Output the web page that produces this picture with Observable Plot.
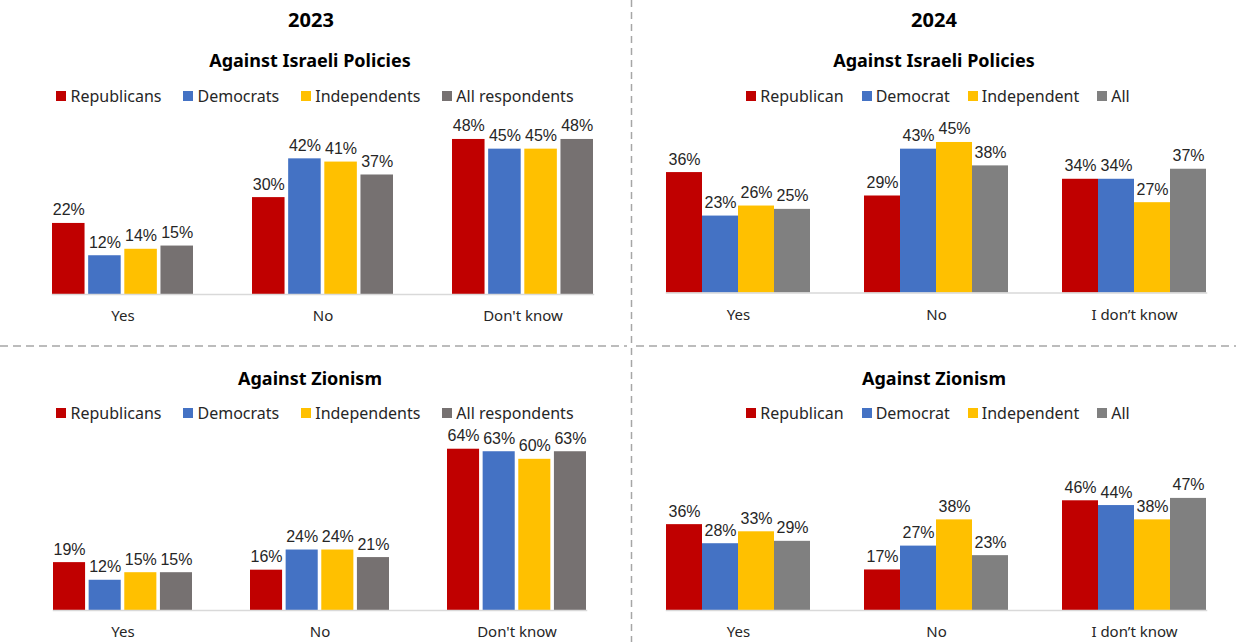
<!DOCTYPE html>
<html>
<head>
<meta charset="utf-8">
<script src="https://cdn.jsdelivr.net/npm/d3@7"></script>
<script src="https://cdn.jsdelivr.net/npm/@observablehq/plot@0.6"></script>
<style>
  html, body { margin: 0; padding: 0; background: #fff; }
  #root { position: relative; width: 1236px; height: 642px; overflow: hidden; font-family: "Noto Sans", sans-serif; color: #262626; }
  .title { position: absolute; text-align: center; font-weight: bold; color: #000; white-space: nowrap; }
  .legend { position: absolute; display: flex; justify-content: center; align-items: center; font-size: 16px; white-space: nowrap; color: #262626; }
  .legend .item { display: flex; align-items: center; }
  .legend .sw { width: 10px; height: 10px; margin-right: 4px; display: inline-block; }
  .plotbox { position: absolute; }
  .deco { position: absolute; pointer-events: none; }
</style>
</head>
<body>
<div id="root"></div>
<script>
// ---- data ----
const categories2023 = ["Yes", "No", "Don't know"];
const categories2024 = ["Yes", "No", "I don’t know"];
const series2023 = ["Republicans", "Democrats", "Independents", "All respondents"];
const series2024 = ["Republican", "Democrat", "Independent", "All"];
const colors2023 = ["#C00000", "#4472C4", "#FFC000", "#767171"];
const colors2024 = ["#C00000", "#4472C4", "#FFC000", "#808080"];

// values per category (rows), in series order (columns)
const policies2023 = [[22, 12, 14, 15], [30, 42, 41, 37], [48, 45, 45, 48]];
const policies2024 = [[36, 23, 26, 25], [29, 43, 45, 38], [34, 34, 27, 37]];
const zionism2023 = [[19, 12, 15, 15], [16, 24, 24, 21], [64, 63, 60, 63]];
const zionism2024 = [[36, 28, 33, 29], [17, 27, 38, 23], [46, 44, 38, 47]];

const root = document.getElementById("root");

function addTitle(text, cx, cy, size) {
  const d = document.createElement("div");
  d.className = "title";
  d.textContent = text;
  d.style.fontSize = size + "px";
  d.style.left = (cx - 300) + "px";
  d.style.width = "600px";
  d.style.top = (cy - size * 0.68) + "px";
  d.style.lineHeight = (size * 1.36) + "px";
  root.appendChild(d);
}

function addLegend(labels, colors, cx, cy, gap) {
  const d = document.createElement("div");
  d.className = "legend";
  d.style.left = (cx - 300) + "px";
  d.style.width = "600px";
  d.style.top = (cy - 11) + "px";
  d.style.height = "22px";
  d.style.gap = gap + "px";
  labels.forEach((l, i) => {
    const it = document.createElement("span");
    it.className = "item";
    const sw = document.createElement("span");
    sw.className = "sw";
    sw.style.background = colors[i];
    it.appendChild(sw);
    it.appendChild(document.createTextNode(l));
    d.appendChild(it);
  });
  root.appendChild(d);
}

function addPanel(cfg) {
  const rows = [];
  cfg.categories.forEach((c, i) => cfg.series.forEach((s, j) => rows.push({cat: c, series: s, value: cfg.values[i][j]})));
  const rangeH = cfg.baseline - cfg.top;
  const marginBottom = cfg.bottomH;
  const chart = Plot.plot({
    width: cfg.width,
    height: rangeH + marginBottom,
    marginTop: 0,
    marginBottom: marginBottom,
    marginLeft: cfg.marginLeft,
    marginRight: cfg.marginRight,
    style: {background: "transparent", fontFamily: "Noto Sans, sans-serif", fontSize: "15px", color: "#262626", overflow: "visible"},
    fx: {domain: cfg.categories, paddingInner: cfg.groupPad, paddingOuter: cfg.groupPad / 2, label: null, axis: "bottom", tickSize: 0, tickPadding: 16},
    x: {domain: cfg.series, axis: null, paddingInner: cfg.barPad, paddingOuter: 0, round: false},
    y: {domain: [0, rangeH / cfg.pxPer], axis: null},
    color: {domain: cfg.series, range: cfg.colors},
    marks: [
      Plot.barY(rows, {fx: "cat", x: "series", y: "value", fill: "series"}),
      Plot.text(rows, {fx: "cat", x: "series", y: "value", text: d => d.value + "%", lineAnchor: "bottom", dy: -8, fontSize: 16, fontFamily: "Liberation Sans, Arial, sans-serif", fill: "#262626"}),
      Plot.frame({anchor: "bottom", facet: "super", stroke: "#D9D9D9", strokeWidth: 1.5})
    ]
  });
  const box = document.createElement("div");
  box.className = "plotbox";
  box.style.left = cfg.left + "px";
  box.style.top = cfg.top + "px";
  box.appendChild(chart);
  root.appendChild(box);
}

// decorations: dashed dividers
const deco = document.createElementNS("http://www.w3.org/2000/svg", "svg");
deco.setAttribute("class", "deco");
deco.setAttribute("width", 1236);
deco.setAttribute("height", 642);
deco.style.left = "0px"; deco.style.top = "0px"; deco.style.zIndex = 5;
deco.innerHTML = '<line x1="631.5" y1="0" x2="631.5" y2="642" stroke="#A6A6A6" stroke-width="1.5" stroke-dasharray="7 5"/>' +
  '<line x1="0" y1="346" x2="627" y2="346" stroke="#A6A6A6" stroke-width="1.5" stroke-dasharray="8 5"/>' +
  '<line x1="636" y1="346" x2="1236" y2="346" stroke="#A6A6A6" stroke-width="1.5" stroke-dasharray="8 5"/>';

// titles
addTitle("2023", 311, 20, 20);
addTitle("2024", 934, 20, 20);
addTitle("Against Israeli Policies", 310, 60, 18);
addTitle("Against Israeli Policies", 934, 60, 18);
addTitle("Against Zionism", 310, 378, 18);
addTitle("Against Zionism", 934, 378, 18);

// legends
addLegend(series2023, colors2023, 315, 96, 22);
addLegend(series2024, colors2024, 938, 96, 18);
addLegend(series2023, colors2023, 315, 413, 22);
addLegend(series2024, colors2024, 938, 413, 18);

// panels
addPanel({left: 0, width: 630, top: 110, baseline: 294, pxPer: 3.23, bottomH: 38, marginLeft: 21.5, marginRight: 7.2,
  groupPad: 0.297, barPad: 0.1, categories: categories2023, series: series2023, colors: colors2023, values: policies2023});
addPanel({left: 632, width: 604, top: 110, baseline: 292.5, pxPer: 3.345, bottomH: 38, marginLeft: 6, marginRight: 3.4,
  groupPad: 0.275, barPad: 0, categories: categories2024, series: series2024, colors: colors2024, values: policies2024});
addPanel({left: 0, width: 630, top: 422, baseline: 610, pxPer: 2.52, bottomH: 32, marginLeft: 24.3, marginRight: 14,
  groupPad: 0.292, barPad: 0.1, categories: categories2023, series: series2023, colors: colors2023, values: zionism2023});
addPanel({left: 632, width: 604, top: 422, baseline: 610, pxPer: 2.385, bottomH: 32, marginLeft: 6, marginRight: 3.4,
  groupPad: 0.275, barPad: 0, categories: categories2024, series: series2024, colors: colors2024, values: zionism2024});

root.appendChild(deco);
</script>
</body>
</html>
